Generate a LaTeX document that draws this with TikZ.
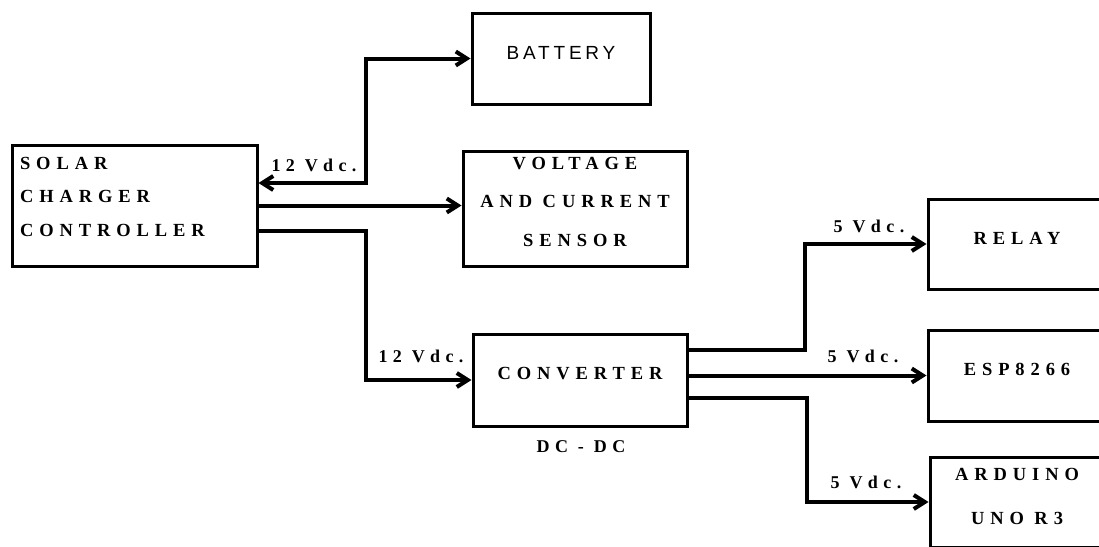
\documentclass[tikz,border=0pt]{standalone}
\usepackage{fontspec}
\usetikzlibrary{arrows.meta}
\newfontfamily\blockserif{Liberation Serif Bold}[LetterSpace=32]
\newfontfamily\voltsserif{Liberation Serif Bold}[LetterSpace=30]
\newfontfamily\spacedsans{Liberation Sans}[LetterSpace=20]
\newcommand{\blockfont}[1]{\blockserif\fontsize{18.5}{#1}\selectfont}

\begin{document}
\begin{tikzpicture}[
  x=1pt,
  y=-1pt,
  >={Straight Barb[length=11pt,width=14pt]},
  block/.style={draw=black,line width=3pt,rectangle,inner sep=0pt,align=center,font=\blockfont{21}},
  wire/.style={draw=black,line width=4pt},
  volts/.style={inner sep=0pt,font=\voltsserif\fontsize{18}{21}\selectfont}
]
  \path[use as bounding box,clip] (0,0) rectangle (1099,546);

  % Blocks, placed at their centres.
  \node[block,minimum width=245pt,minimum height=121pt,text width=229pt,inner xsep=8pt,
        align=left,font=\blockfont{33.5},text depth=85pt] (solar) at (134.5,205.5)
        {SOLAR\\CHARGER\\CONTROLLER};
  \node[block,minimum width=178pt,minimum height=91pt,font=\spacedsans\fontsize{19}{23}\selectfont,
        text depth=11pt] (battery) at (561,58.5) {BATTERY};
  \node[block,minimum width=224pt,minimum height=115pt,font=\blockfont{38.5},
        text depth=14pt] (voltage) at (575,208.5) {VOLTAGE\\AND CURRENT\\SENSOR};
  \node[block,minimum width=214pt,minimum height=92pt,text depth=14pt] (converter) at (580,380) {CONVERTER};
  \node[block,minimum width=178pt,minimum height=90pt,text depth=12pt] (relay) at (1017,244) {RELAY};
  \node[block,minimum width=178pt,minimum height=91pt,text depth=13pt] (esp) at (1017,375.5) {ESP8266};
  \node[block,minimum width=174pt,minimum height=90pt,font=\blockfont{44},
        text depth=12pt] (arduino) at (1017,502) {ARDUINO\\UNO R3};

  % Supply labels.
  \node[volts] (vbattery) at (314,165) {12 Vdc.};
  \node[volts] (vconverter) at (421,356) {12 Vdc.};
  \node[volts] (dcdc) at (581,447) {DC - DC};
  \node[volts] (vrelay) at (869,226) {5 Vdc.};
  \node[volts] (vesp) at (863,356) {5 Vdc.};
  \node[volts] (varduino) at (866,482) {5 Vdc.};

  % Wiring from the charger controller.
  \draw[wire,<->] ([yshift=22.5pt]solar.east) -- ++(107,0) |- (battery.west);
  \draw[wire,->] (solar.east) -- (solar.east -| voltage.west);
  \draw[wire,->] ([yshift=-25.5pt]solar.east) -- ++(107,0) |- (converter.west);

  % Wiring from the converter.
  \draw[wire,->] ([yshift=30pt]converter.east) -- ++(116,0) |- (relay.west);
  \draw[wire,->] (converter.east |- esp.west) -- (esp.west);
  \draw[wire,->] ([yshift=-18pt]converter.east) -- ++(118,0) |- (arduino.west);
\end{tikzpicture}
\end{document}
